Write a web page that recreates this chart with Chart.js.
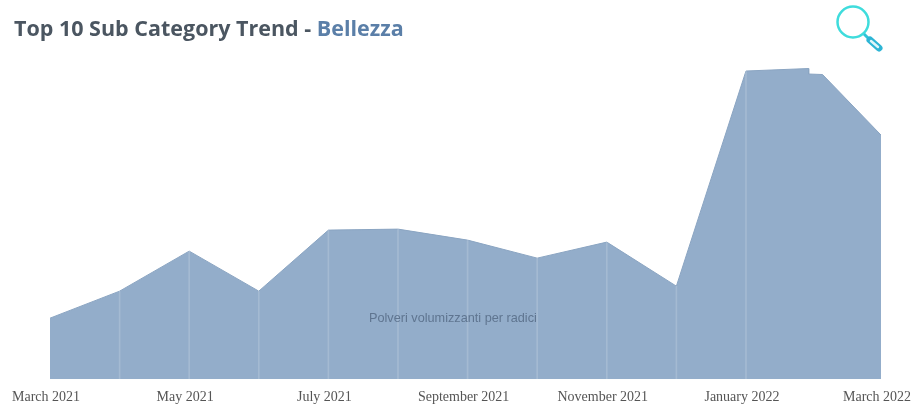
<!DOCTYPE html>
<html>
<head>
<meta charset="utf-8">
<title>Top 10 Sub Category Trend</title>
<script src="https://cdn.jsdelivr.net/npm/chart.js@4/dist/chart.umd.min.js"></script>
<style>
  html, body { margin: 0; padding: 0; background: #fff; }
  #wrap { position: relative; width: 916px; height: 404px; overflow: hidden; }
  #chart { position: absolute; left: 0; top: 0; }
  #title { position: absolute; left: 14px; top: 13px; font: 700 21.5px "Open Sans", sans-serif; color: #4b5661; white-space: nowrap; }
  #title span { color: #5b7fa8; }
  #note { position: absolute; left: 369px; top: 311px; font: 12.7px "Liberation Sans", sans-serif; color: #5f7590; white-space: nowrap; }
  #icon { position: absolute; left: 834px; top: 3px; }
</style>
</head>
<body>
<div id="wrap">
  <canvas id="chart" width="916" height="404"></canvas>
  <div id="title">Top 10 Sub Category Trend - <span>Bellezza</span></div>
  <div id="note">Polveri volumizzanti per radici</div>
  <svg id="icon" width="54" height="52" viewBox="0 0 54 52" fill="none">
    <circle cx="19" cy="19" r="15.5" stroke="#3fdcdc" stroke-width="2.5"/>
    <line x1="30" y1="31" x2="34" y2="35" stroke="#2fc4d8" stroke-width="3"/>
    <line x1="36" y1="37" x2="45" y2="45" stroke="#2db5d5" stroke-width="7" stroke-linecap="round"/>
    <line x1="37" y1="38" x2="44" y2="44" stroke="#dff6fa" stroke-width="2.5" stroke-linecap="round"/>
  </svg>
</div>
<script>
// month position, 0 = March 2021, the last point stops just short of 12 = March 2022
var monthPos = [0, 1, 2, 3, 4, 5, 6, 7, 8, 9, 10, 10.9, 10.901, 11.1, 11.94];
var areaValues = [61, 88, 128, 88, 149, 150, 139, 121, 137, 93, 308, 310.5, 305, 304.5, 244];
var tickLabels = {
  0: 'March 2021', 2: 'May 2021', 4: 'July 2021', 6: 'September 2021',
  8: 'November 2021', 10: 'January 2022', 12: 'March 2022'
};

var areaPoints = [];
var linePoints = [];
for (let i = 0; i < monthPos.length; i++) {
  areaPoints.push({ x: monthPos[i], y: areaValues[i] });
  // separators only on whole months, not on the first one
  if (monthPos[i] > 0 && Number.isInteger(monthPos[i])) {
    linePoints.push({ x: monthPos[i], y: areaValues[i] });
  }
}

var ctx = document.getElementById('chart').getContext('2d');
var chart = new Chart(ctx, {
  type: 'line',
  data: {
    datasets: [{
      type: 'bar',
      data: linePoints,
      backgroundColor: 'rgba(255,255,255,0.16)',
      barThickness: 1,
      order: 0
    }, {
      type: 'line',
      data: areaPoints,
      backgroundColor: '#93adca',
      borderColor: '#8ba5c2',
      borderWidth: 1,
      fill: 'origin',
      tension: 0,
      pointRadius: 0,
      order: 1
    }]
  },
  options: {
    responsive: false,
    animation: false,
    layout: { padding: { left: 50, right: 35, top: 20, bottom: -4 } },
    plugins: { legend: { display: false }, tooltip: { enabled: false } },
    scales: {
      x: {
        type: 'linear',
        min: 0,
        max: 11.94,
        offset: false,
        grid: { display: false },
        border: { display: false },
        afterFit: function(scale) { scale.paddingLeft = 0; scale.paddingRight = 0; },
        ticks: {
          stepSize: 1,
          autoSkip: false,
          maxRotation: 0,
          labelOffset: -4,
          padding: 2,
          color: '#555',
          font: { family: '"Liberation Serif", serif', size: 14 },
          callback: function(value) { return tickLabels[Math.round(value)] || ''; }
        }
      },
      y: { display: false, min: 0, max: 359 }
    }
  }
});
</script>
</body>
</html>
